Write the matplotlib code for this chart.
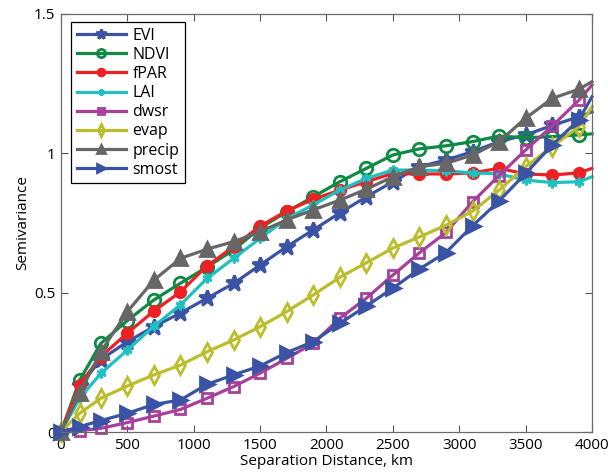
import matplotlib
matplotlib.use("Agg")
import matplotlib.pyplot as plt

plt.rcParams['font.family'] = ['Open Sans', 'DejaVu Sans']

# lag distances (km); last value is where the lines leave the plot edge
dist = [0, 140, 300, 500, 700, 900, 1100, 1300, 1500, 1700, 1900, 2100,
        2300, 2500, 2700, 2900, 3100, 3300, 3500, 3700, 3900, 4000]

evi = [0, 0.165, 0.26, 0.324, 0.378, 0.427, 0.48, 0.533, 0.599, 0.665, 0.725,
       0.786, 0.844, 0.898, 0.952, 0.976, 1.006, 1.042, 1.066, 1.10, 1.131, 1.149]
ndvi = [0, 0.185, 0.318, 0.40, 0.474, 0.534, 0.592, 0.653, 0.732, 0.79, 0.844,
        0.898, 0.946, 0.994, 1.016, 1.027, 1.042, 1.062, 1.056, 1.06, 1.066, 1.07]
fpar = [0, 0.17, 0.27, 0.355, 0.434, 0.503, 0.596, 0.665, 0.739, 0.793, 0.835,
        0.868, 0.898, 0.928, 0.926, 0.926, 0.93, 0.946, 0.926, 0.922, 0.93, 0.946]
lai = [0, 0.121, 0.21, 0.294, 0.38, 0.456, 0.551, 0.623, 0.695, 0.765, 0.815,
       0.868, 0.91, 0.94, 0.94, 0.937, 0.93, 0.926, 0.904, 0.895, 0.898, 0.916]
dwsr = [0, 0.005, 0.013, 0.034, 0.057, 0.081, 0.121, 0.163, 0.211, 0.264, 0.318,
        0.408, 0.48, 0.563, 0.643, 0.716, 0.826, 0.92, 1.012, 1.098, 1.19, 1.245]
evap = [0, 0.067, 0.121, 0.165, 0.205, 0.24, 0.288, 0.33, 0.378, 0.432, 0.492,
        0.555, 0.607, 0.66, 0.70, 0.742, 0.792, 0.868, 0.952, 1.024, 1.095, 1.167]
precip = [0, 0.139, 0.288, 0.432, 0.545, 0.623, 0.656, 0.683, 0.719, 0.761, 0.797,
          0.832, 0.871, 0.916, 0.952, 0.964, 0.994, 1.042, 1.126, 1.197, 1.23, 1.257]
smost = [0, 0.019, 0.041, 0.067, 0.099, 0.115, 0.171, 0.205, 0.237, 0.285, 0.324,
         0.39, 0.452, 0.516, 0.585, 0.644, 0.74, 0.829, 0.928, 1.03, 1.12, 1.203]

names = ['EVI', 'NDVI', 'fPAR', 'LAI', 'dwsr', 'evap', 'precip', 'smost']
series = [evi, ndvi, fpar, lai, dwsr, evap, precip, smost]

colors = ['#3a53a4', '#0e8a44', '#ed2024', '#1fc0c0', '#a6409a', '#bcbd2c',
          '#666666', '#3a53a4']
markers = ['*', 'o', 'o', (6, 2, 0), 's', 'd', '^', '>']
msizes = [12, 9, 7.5, 7, 7.5, 9, 9.5, 9.5]
filled = [True, False, True, True, False, False, True, True]

fig = plt.figure(figsize=(6.08, 4.74), dpi=100)
ax = fig.add_axes([0.1003, 0.0886, 0.8734, 0.8819])

mark_idx = list(range(len(dist) - 1))
for name, y, c, m, ms, f in zip(names, series, colors, markers, msizes, filled):
    ax.plot(dist, y, color=c, lw=2.3, marker=m, markersize=ms,
            markerfacecolor=c if f else 'none', markeredgecolor=c,
            markeredgewidth=2.0, markevery=mark_idx, label=name, clip_on=False)

ax.set_xlim(0, 4000)
ax.set_ylim(0, 1.5)
ax.set_xticks(range(0, 4001, 500))
ax.set_yticks([0, 0.5, 1, 1.5])
ax.set_yticklabels(['0', '0.5', '1', '1.5'])
ax.tick_params(direction='in', top=True, right=True, length=5, width=0.8,
               color='#555555', labelsize=11, pad=4)
for sp in ax.spines.values():
    sp.set_color('#6a6a6a')
    sp.set_linewidth(0.9)

ax.set_xlabel('Separation Distance, km', fontsize=11, labelpad=1)
ax.set_ylabel('Semivariance', fontsize=11, labelpad=3)

leg = ax.legend(loc='upper left', bbox_to_anchor=(0.019, 0.981),
                borderaxespad=0, fontsize=11.5,
                numpoints=1, handlelength=3.1, handletextpad=0.4,
                labelspacing=0.2, borderpad=0.35, fancybox=False,
                edgecolor='black', framealpha=1, markerscale=0.65)
leg.get_frame().set_linewidth(0.9)

fig.savefig('out.png', dpi=100)
